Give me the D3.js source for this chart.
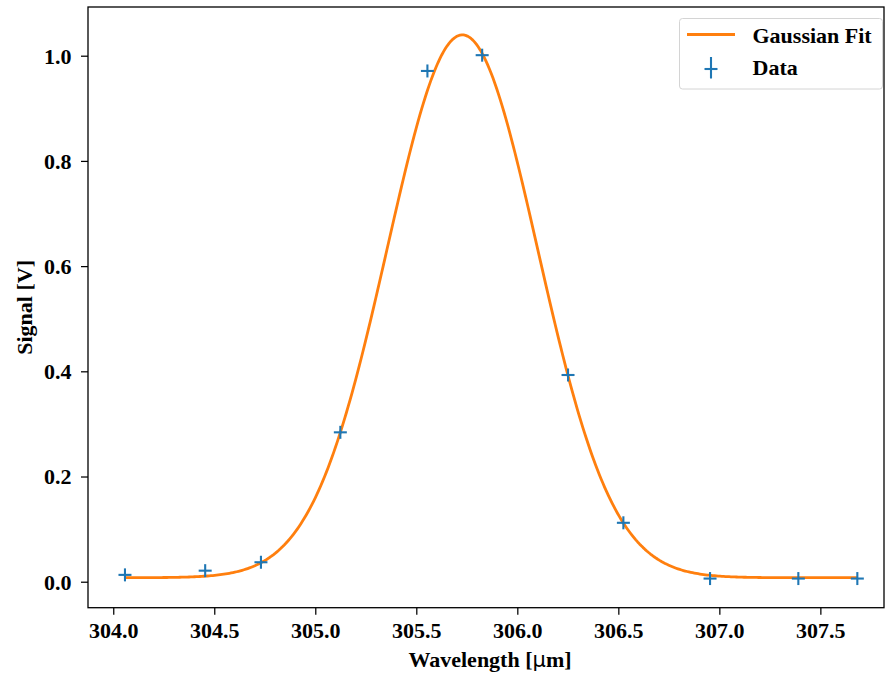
<!DOCTYPE html>
<html>
<head>
<meta charset="utf-8">
<script src="https://cdn.jsdelivr.net/npm/d3@7"></script>
<style>
  html, body { margin: 0; padding: 0; background: #fff; }
  svg { display: block; }
  text { font-family: "Liberation Serif", "Times New Roman", serif; font-weight: bold; fill: #000; }
</style>
</head>
<body>
<svg id="chart" width="885" height="674"></svg>
<script>
// Measured wavelengths (µm) and detector signal (V)
const wavelength = [304.058, 304.455, 304.731, 305.124, 305.555, 305.826, 306.251, 306.525, 306.954, 307.391, 307.683];
const signal     = [0.013, 0.021, 0.037, 0.284, 0.971, 1.001, 0.393, 0.112, 0.006, 0.006, 0.006];

// Gaussian fit parameters: offset + amplitude * exp(-(x - center)^2 / (2 sigma^2))
const fitOffset = 0.0076;
const fitAmplitude = 1.032;
const fitCenter = 305.728;
const fitSigma = 0.372;

// Axis ticks
const xTicks = [304.0, 304.5, 305.0, 305.5, 306.0, 306.5, 307.0, 307.5];
const yTicks = [0.0, 0.2, 0.4, 0.6, 0.8, 1.0];

const svg = d3.select("#chart");
const plotLeft = 88, plotRight = 884, plotTop = 7, plotBottom = 607.7;

const x = d3.scaleLinear().domain([303.875, 307.815]).range([plotLeft, plotRight]);
const y = d3.scaleLinear().domain([-0.0494, 1.0926]).range([plotBottom, plotTop]);

const fontSize = 22;

// Fit curve sampled across the measured range
const nSamples = 400;
const x0 = d3.min(wavelength), x1 = d3.max(wavelength);
const fitPts = d3.range(nSamples + 1).map(i => {
  const w = x0 + (x1 - x0) * i / nSamples;
  return [w, fitOffset + fitAmplitude * Math.exp(-((w - fitCenter) ** 2) / (2 * fitSigma ** 2))];
});

const plot = svg.append("g");

plot.append("path")
  .datum(fitPts)
  .attr("fill", "none")
  .attr("stroke", "#ff7f0e")
  .attr("stroke-width", 2.8)
  .attr("stroke-linejoin", "round")
  .attr("d", d3.line().x(d => x(d[0])).y(d => y(d[1])));

// Data markers ('+')
const m = 6.5;
const markers = plot.selectAll("g.pt")
  .data(wavelength.map((w, i) => [w, signal[i]]))
  .join("g")
  .attr("class", "pt")
  .attr("transform", d => `translate(${x(d[0])},${y(d[1])})`);
markers.append("line").attr("x1", -m).attr("x2", m).attr("y1", 0).attr("y2", 0);
markers.append("line").attr("x1", 0).attr("x2", 0).attr("y1", -m).attr("y2", m);
markers.selectAll("line").attr("stroke", "#1f77b4").attr("stroke-width", 2.1);

// Axes
const xAxis = svg.append("g")
  .attr("transform", `translate(0,${plotBottom})`)
  .call(d3.axisBottom(x).tickValues(xTicks).tickFormat(d3.format(".1f")).tickSize(7).tickSizeOuter(0));
const yAxis = svg.append("g")
  .attr("transform", `translate(${plotLeft},0)`)
  .call(d3.axisLeft(y).tickValues(yTicks).tickFormat(d3.format(".1f")).tickSize(7).tickSizeOuter(0));

[xAxis, yAxis].forEach(a => {
  a.select(".domain").remove();
  a.selectAll(".tick line").attr("stroke", "#000").attr("stroke-width", 1.25);
  a.selectAll(".tick text")
    .attr("font-size", fontSize)
    .attr("font-family", null)
    .attr("fill", "#000");
});
xAxis.selectAll(".tick text").attr("y", 30.5).attr("dy", null);
yAxis.selectAll(".tick text").attr("x", -16.5).attr("dy", "0.34em");

// Frame
svg.append("rect")
  .attr("x", plotLeft).attr("y", plotTop)
  .attr("width", plotRight - plotLeft).attr("height", plotBottom - plotTop)
  .attr("fill", "none")
  .attr("stroke", "#000")
  .attr("stroke-width", 1.3);

// Axis labels (the micro sign is set in a regular sans face, as math text)
const xLabel = svg.append("text")
  .attr("x", (plotLeft + plotRight) / 2 + 4)
  .attr("y", 667)
  .attr("text-anchor", "middle")
  .attr("font-size", fontSize);
xLabel.append("tspan").text("Wavelength [");
xLabel.append("tspan")
  .attr("font-family", "'DejaVu Sans', sans-serif")
  .attr("font-weight", "normal")
  .attr("font-size", fontSize - 1)
  .text("μ");
xLabel.append("tspan").text("m]");

svg.append("text")
  .attr("transform", `translate(32,${(plotTop + plotBottom) / 2}) rotate(-90)`)
  .attr("text-anchor", "middle")
  .attr("font-size", fontSize)
  .text("Signal [V]");

// Legend
const legend = svg.append("g");
legend.append("rect")
  .attr("x", 679.5).attr("y", 18.5)
  .attr("width", 203).attr("height", 70.5)
  .attr("rx", 3).attr("ry", 3)
  .attr("fill", "#fff").attr("fill-opacity", 0.8)
  .attr("stroke", "#d4d4d4").attr("stroke-width", 1);
legend.append("line")
  .attr("x1", 687).attr("x2", 735).attr("y1", 34.5).attr("y2", 34.5)
  .attr("stroke", "#ff7f0e").attr("stroke-width", 2.8);
legend.append("line")
  .attr("x1", 704.5).attr("x2", 717.5).attr("y1", 69).attr("y2", 69)
  .attr("stroke", "#1f77b4").attr("stroke-width", 2.1);
legend.append("line")
  .attr("x1", 711).attr("x2", 711).attr("y1", 57).attr("y2", 78.5)
  .attr("stroke", "#1f77b4").attr("stroke-width", 2.1);
legend.append("text").attr("x", 752.5).attr("y", 43).attr("font-size", fontSize).text("Gaussian Fit");
legend.append("text").attr("x", 752.5).attr("y", 75).attr("font-size", fontSize).text("Data");
</script>
</body>
</html>
